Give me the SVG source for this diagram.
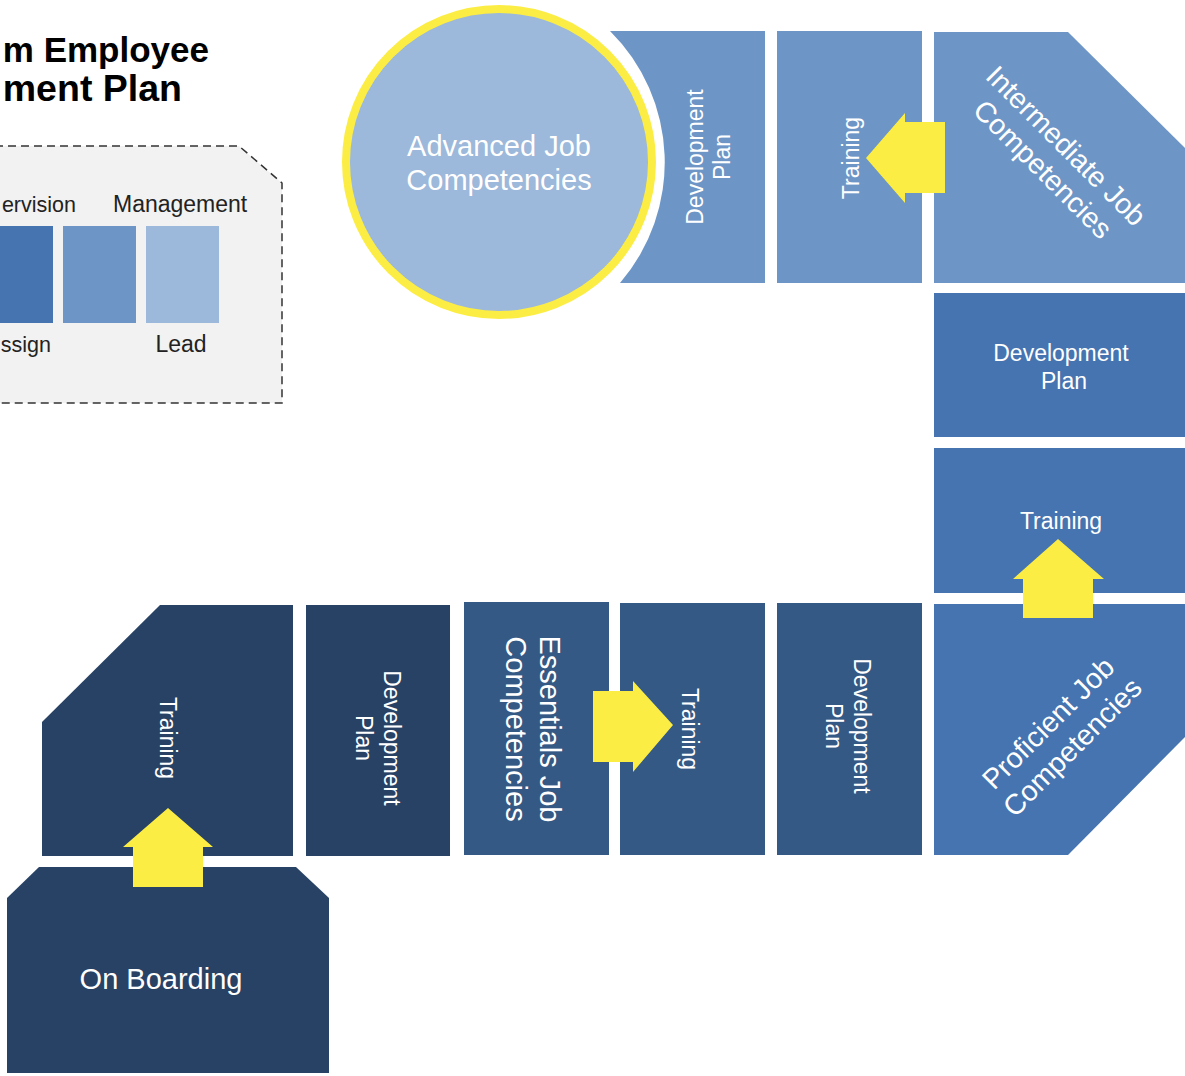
<svg xmlns="http://www.w3.org/2000/svg" width="1185" height="1076" viewBox="0 0 1185 1076">
<style>
  .t { font-family: "Liberation Sans", Arial, sans-serif; fill: #ffffff; text-anchor: middle; }
  .s22 { font-size: 23px; }
  .s28 { font-size: 28.5px; }
  .s29 { font-size: 29px; }
  .lg { font-family: "Liberation Sans", Arial, sans-serif; font-size: 23px; fill: #222222; }
  .lgs { font-size: 21.5px; }
  .title { font-family: "Liberation Sans", Arial, sans-serif; font-weight: bold; fill: #000000; text-anchor: end; }
  .c1 { fill: #9cb8da; }
  .c2 { fill: #6d96c7; }
  .c3 { fill: #4574b1; }
  .c4 { fill: #345985; }
  .c5 { fill: #284266; }
  .arrow { fill: #fced44; }
</style>
<rect width="1185" height="1076" fill="#ffffff"/>

<g id="title">
  <text class="title" x="209" y="62" font-size="35">m Employee</text>
  <text class="title" x="182" y="101" font-size="37.5">ment Plan</text>
</g>

<g id="legend">
  <path d="M -5 146 L 239 146 L 282 183 L 282 403 L -5 403 Z" fill="#f2f2f2" stroke="#333333" stroke-width="1.5" stroke-dasharray="8 5"/>
  <rect class="c3" x="-5" y="226" width="58" height="97"/>
  <rect class="c2" x="63" y="226" width="73" height="97"/>
  <rect class="c1" x="146" y="226" width="73" height="97"/>
  <text class="lg lgs" x="76" y="212" text-anchor="end">ervision</text>
  <text class="lg" x="113" y="212">Management</text>
  <text class="lg lgs" x="51" y="352" text-anchor="end">ssign</text>
  <text class="lg" x="181" y="352" text-anchor="middle">Lead</text>
</g>

<g id="advanced">
  <circle class="c1" cx="499" cy="162" r="153" stroke="#fced44" stroke-width="8"/>
  <text class="t s29" x="499" y="156">Advanced Job</text>
  <text class="t s29" x="499" y="190">Competencies</text>
</g>

<g id="devplan-top">
  <path class="c2" d="M 610 31 L 765 31 L 765 283 L 620 283 A 185 185 0 0 0 610 31 Z"/>
  <text class="t s22" transform="translate(708,157) rotate(-90)"><tspan x="0" y="-5">Development</tspan><tspan x="0" y="22">Plan</tspan></text>
</g>

<g id="training-top">
  <rect class="c2" x="777" y="31" width="145" height="252"/>
  <text class="t s22" transform="translate(851,158) rotate(-90)" x="0" y="8">Training</text>
</g>

<g id="intermediate">
  <path class="c2" d="M 934 32 L 1068 32 L 1185 148 L 1185 283 L 934 283 Z"/>
  <text class="t s28" transform="translate(1055,157) rotate(45)"><tspan x="0" y="-6">Intermediate Job</tspan><tspan x="0" y="27">Competencies</tspan></text>
</g>

<g id="devplan-right">
  <rect class="c3" x="934" y="293" width="251" height="144"/>
  <text class="t s22" x="1061" y="361">Development</text>
  <text class="t s22" x="1064" y="389">Plan</text>
</g>

<g id="training-right">
  <rect class="c3" x="934" y="448" width="251" height="145"/>
  <text class="t s22" x="1061" y="529">Training</text>
</g>

<g id="proficient">
  <path class="c3" d="M 934 604 L 1185 604 L 1185 737 L 1068 855 L 934 855 Z"/>
  <text class="t s28" transform="translate(1060,735) rotate(-45)"><tspan x="0" y="-7">Proficient Job</tspan><tspan x="0" y="27">Competencies</tspan></text>
</g>

<g id="devplan-bottom">
  <rect class="c4" x="777" y="603" width="145" height="252"/>
  <text class="t s22" transform="translate(848,726) rotate(90)"><tspan x="0" y="-6">Development</tspan><tspan x="0" y="22">Plan</tspan></text>
</g>

<g id="training-bottom">
  <rect class="c4" x="620" y="603" width="145" height="252"/>
  <text class="t s22" transform="translate(690,729) rotate(90)" x="0" y="8">Training</text>
</g>

<g id="essentials">
  <rect class="c4" x="464" y="602" width="145" height="253"/>
  <text class="t s29" transform="translate(533,729) rotate(90)"><tspan x="0" y="-7">Essentials Job</tspan><tspan x="0" y="27">Competencies</tspan></text>
</g>

<g id="devplan-dark">
  <rect class="c5" x="306" y="605" width="144" height="251"/>
  <text class="t s22" transform="translate(378,738) rotate(90)"><tspan x="0" y="-6">Development</tspan><tspan x="0" y="22">Plan</tspan></text>
</g>

<g id="training-dark">
  <path class="c5" d="M 42 722 L 160 605 L 293 605 L 293 856 L 42 856 Z"/>
  <text class="t s22" transform="translate(168,738) rotate(90)" x="0" y="8">Training</text>
</g>

<g id="onboarding">
  <path class="c5" d="M 7 898 L 39 867 L 296 867 L 329 898 L 329 1073 L 7 1073 Z"/>
  <text class="t s29" x="161" y="989">On Boarding</text>
</g>

<g id="connectors">
  <path class="arrow" d="M 945 122 L 905 122 L 905 113 L 866 158 L 905 203 L 905 193 L 945 193 Z"/>
  <path class="arrow" d="M 593 691 L 633 691 L 633 681 L 673 725 L 633 772 L 633 762 L 593 762 Z"/>
  <path class="arrow" d="M 1023 618 L 1023 579 L 1013 579 L 1058 539 L 1104 579 L 1093 579 L 1093 618 Z"/>
  <path class="arrow" d="M 133 887 L 133 847 L 123 847 L 168 808 L 213 847 L 203 847 L 203 887 Z"/>
</g>
</svg>
